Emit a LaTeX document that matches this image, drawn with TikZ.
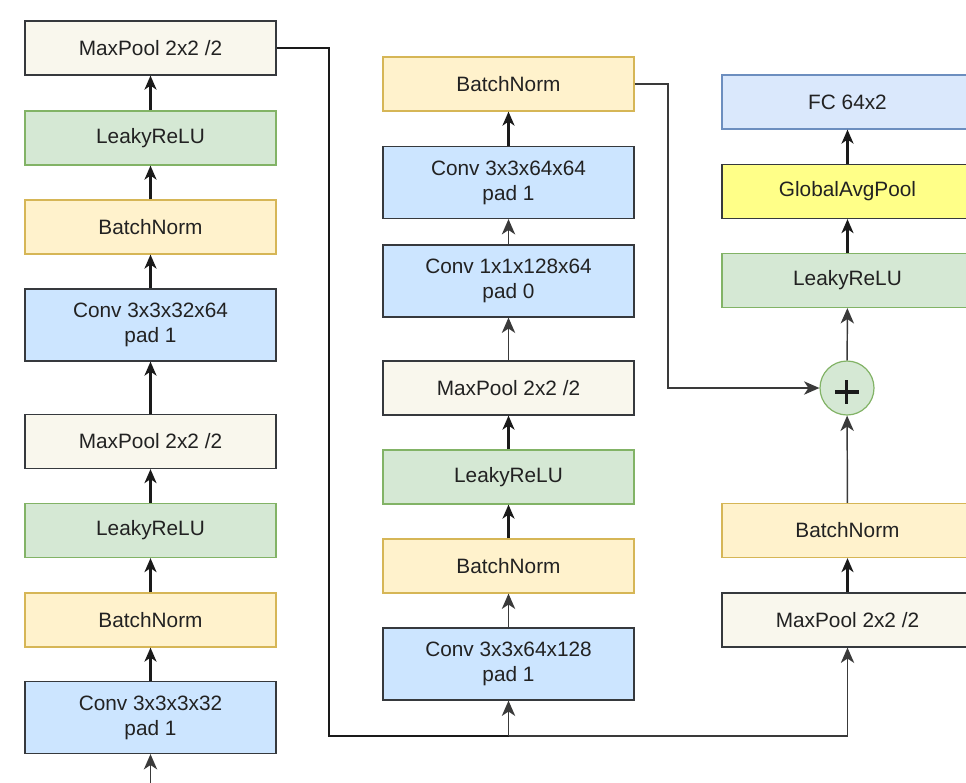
\documentclass[tikz,border=0pt]{standalone}
\usepackage{fontspec}
\setmainfont{Liberation Sans}
\usetikzlibrary{arrows.meta}
\definecolor{poolfill}{HTML}{F9F7ED}
\definecolor{darkstroke}{HTML}{36393D}
\definecolor{relufill}{HTML}{D5E8D4}
\definecolor{relustroke}{HTML}{82B366}
\definecolor{bnfill}{HTML}{FFF2CC}
\definecolor{bnstroke}{HTML}{D6B656}
\definecolor{convfill}{HTML}{CCE5FF}
\definecolor{fcfill}{HTML}{DAE8FC}
\definecolor{fcstroke}{HTML}{6C8EBF}
\definecolor{gapfill}{HTML}{FFFF88}
\definecolor{txt}{HTML}{222222}
\definecolor{arrdark}{HTML}{1A1A1A}
\definecolor{arrgray}{HTML}{3A3A3A}
\begin{document}
\begin{tikzpicture}[x=0.75pt,y=-0.75pt,
  layer/.style={draw, line width=0.9pt, minimum width=188.25pt, minimum height=40.5pt,
    inner sep=0pt, align=center, text=txt,
    font=\fontsize{15.6}{18.75}\selectfont},
  tallbox/.style={layer, minimum height=54pt},
  poolbox/.style={layer, fill=poolfill, draw=darkstroke},
  relubox/.style={layer, fill=relufill, draw=relustroke},
  bnbox/.style={layer, fill=bnfill, draw=bnstroke},
  convbox/.style={tallbox, fill=convfill, draw=darkstroke},
  fcbox/.style={layer, fill=fcfill, draw=fcstroke},
  gapbox/.style={layer, fill=gapfill, draw=darkstroke},
  plusnode/.style={circle, draw=relustroke, fill=relufill, line width=0.9pt,
    minimum size=40.5pt, inner sep=0pt,
    path picture={
      \draw[arrdark, line width=2.6pt]
        ([xshift=-9pt,yshift=-3pt]path picture bounding box.center) --
        ([xshift=9pt,yshift=-3pt]path picture bounding box.center)
        ([xshift=-0.5pt,yshift=6pt]path picture bounding box.center) --
        ([xshift=-0.5pt,yshift=-12pt]path picture bounding box.center);
    }},
  tipthick/.tip={Stealth[length=10.5pt,width=9pt,inset=3pt]},
  tipthin/.tip={Stealth[length=11.5pt,width=10pt,inset=3.3pt]},
  arrthick/.style={draw=arrdark, line width=1.6pt, -tipthick},
  arrthin/.style={draw=arrgray, line width=1.1pt, -tipthin},
  linethick/.style={draw=arrdark, line width=1.4pt}]
\useasboundingbox (0,0) rectangle (966,782);
\clip (0,0) rectangle (966,782);

% left column
\node[poolbox] (L1) at (150.5,48) {MaxPool 2x2 /2};
\node[relubox] (L2) at (150.5,138) {LeakyReLU};
\node[bnbox]   (L3) at (150.5,227) {BatchNorm};
\node[convbox] (L4) at (150.5,325) {Conv 3x3x32x64\\pad 1};
\node[poolbox] (L5) at (150.5,441.5) {MaxPool 2x2 /2};
\node[relubox] (L6) at (150.5,530.5) {LeakyReLU};
\node[bnbox]   (L7) at (150.5,620) {BatchNorm};
\node[convbox] (L8) at (150.5,717.5) {Conv 3x3x3x32\\pad 1};
\coordinate (in) at (150.5,790);

% middle column
\node[bnbox]   (M1) at (508.5,84) {BatchNorm};
\node[convbox] (M2) at (508.5,182.5) {Conv 3x3x64x64\\pad 1};
\node[convbox] (M3) at (508.5,281) {Conv 1x1x128x64\\pad 0};
\node[poolbox] (M4) at (508.5,388) {MaxPool 2x2 /2};
\node[relubox] (M5) at (508.5,477) {LeakyReLU};
\node[bnbox]   (M6) at (508.5,566) {BatchNorm};
\node[convbox] (M7) at (508.5,664) {Conv 3x3x64x128\\pad 1};

% right column
\node[fcbox]   (R1) at (847.5,102) {FC 64x2};
\node[gapbox]  (R2) at (847.5,191.5) {GlobalAvgPool};
\node[relubox] (R3) at (847.5,280.5) {LeakyReLU};
\node[plusnode] (P) at (847,388) {};
\node[bnbox]   (R5) at (847.5,530.5) {BatchNorm};
\node[poolbox] (R6) at (847.5,620) {MaxPool 2x2 /2};

% routing points
\coordinate (j1) at (329,736);
\coordinate (j2) at (508.5,736);
\coordinate (s1) at (668,84);

% left column arrows
\draw[arrthin] (in) -- (L8.south);
\draw[arrthick] (L8) -- (L7);
\draw[arrthick] (L7) -- (L6);
\draw[arrthick] (L6) -- (L5);
\draw[arrthick] (L5) -- (L4);
\draw[arrthick] (L4) -- (L3);
\draw[arrthick] (L3) -- (L2);
\draw[arrthick] (L2) -- (L1);

% downsampling route
\draw[linethick] (L1.east) -| (j1) -- (j2);
\draw[arrthin] (j2) -- (M7.south);
\draw[arrthin] (j2) -| (R6.south);

% middle column arrows
\draw[arrthin] (M7) -- (M6);
\draw[arrthick] (M6) -- (M5);
\draw[arrthick] (M5) -- (M4);
\draw[arrthin] (M4) -- (M3);
\draw[arrthin] (M3) -- (M2);
\draw[arrthick] (M2) -- (M1);

% skip connection
\draw[arrthin] (M1.east) -- (s1) |- (P.west);

% right column arrows
\draw[arrthick] (R6) -- (R5);
\draw[arrthin] (R5) -- (P);
\draw[arrthin] (P) -- (R3);
\draw[arrthick] (R3) -- (R2);
\draw[arrthick] (R2) -- (R1);
\end{tikzpicture}
\end{document}
